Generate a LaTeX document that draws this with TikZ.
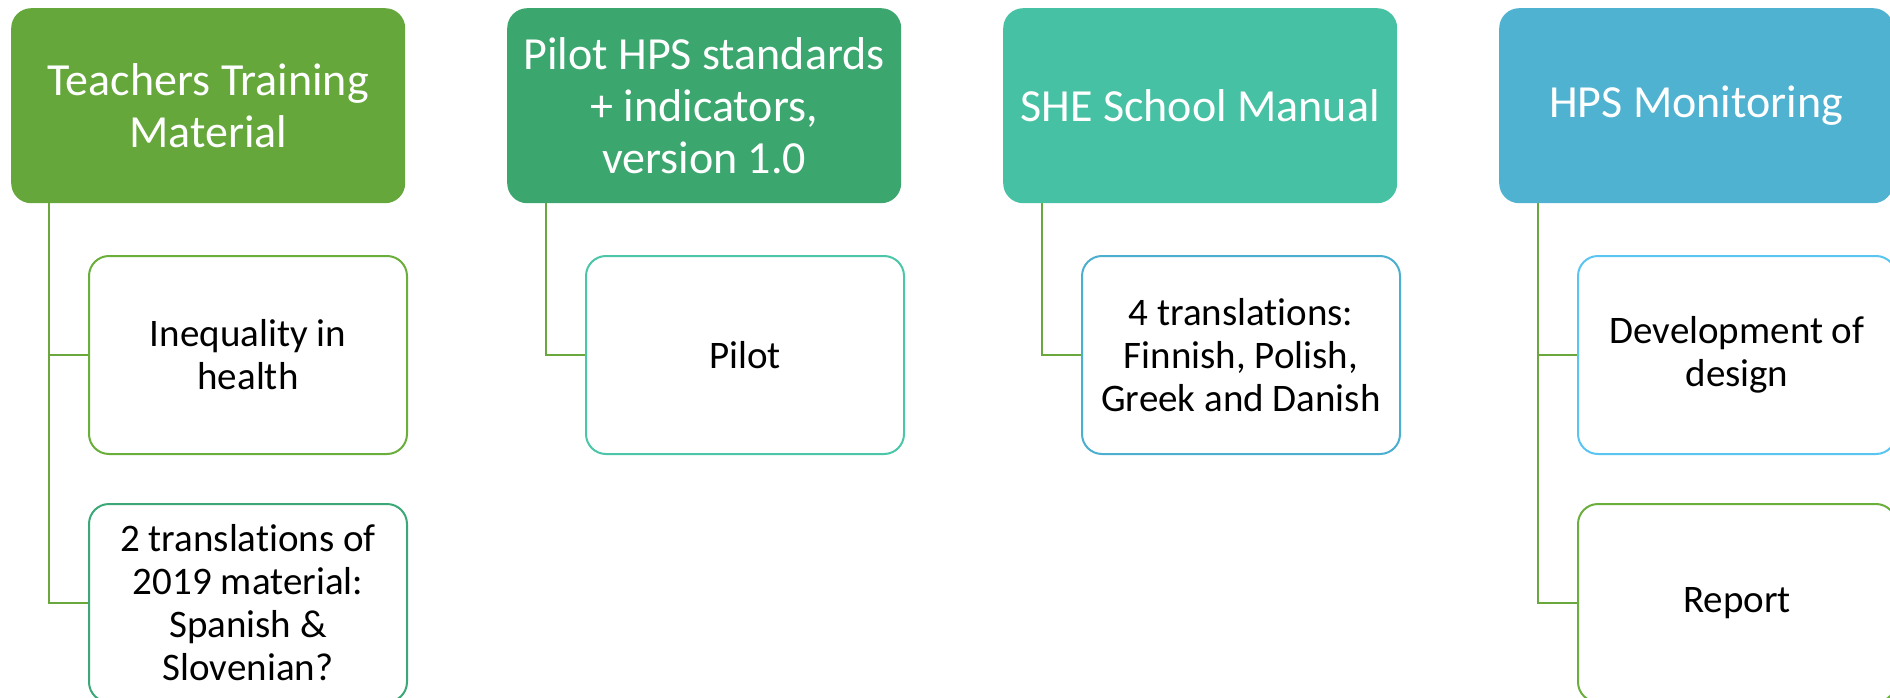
\documentclass[tikz,border=0pt]{standalone}
\usepackage{fontspec}
\setmainfont{Carlito}[Ligatures=NoCommon]
\definecolor{hA}{HTML}{65A73A}
\definecolor{hB}{HTML}{3BA76F}
\definecolor{hC}{HTML}{47C1A3}
\definecolor{hD}{HTML}{4EB2D0}
\definecolor{bGreen}{HTML}{6AAF3C}
\definecolor{bMid}{HTML}{3DA877}
\definecolor{bTeal}{HTML}{4CC6A8}
\definecolor{bBlue}{HTML}{4DAFD0}
\definecolor{bLight}{HTML}{5BC5F2}
\definecolor{cLine}{HTML}{6AA83E}
\tikzset{
  head/.style={rectangle, rounded corners=20pt, fill=#1, draw=none, text=white,
    minimum width=394pt, minimum height=195pt, inner sep=0pt, align=center,
    anchor=north west, font=\fontsize{46}{52}\selectfont},
  child/.style={rectangle, rounded corners=20pt, fill=white, draw=#1, line width=2pt,
    minimum width=318pt, minimum height=198pt, inner sep=0pt, align=center,
    anchor=north west, font=\fontsize{39}{43}\selectfont},
  conn/.style={draw=cLine, line width=2.5pt}
}
\begin{document}
\begin{tikzpicture}[x=1pt,y=-1pt]
\useasboundingbox (0,0) rectangle (1890,698);
\node[head=hA] (h1) at (11,8) {Teachers Training\\Material};
\node[head=hB] (h2) at (507,8) {Pilot HPS standards\\+ indicators,\\version 1.0};
\node[head=hC] (h3) at (1003,8) {SHE School Manual};
\node[head=hD] (h4) at (1499,8) {HPS Monitoring};

\node[child=bGreen] (c11) at (88,255) {Inequality in\\health};
\node[child=bMid] (c12) at (88,503) {2 translations of\\2019 material:\\Spanish \&\\Slovenian?};
\node[child=bTeal] (c21) at (585,255) {Pilot};
\node[child=bBlue] (c31) at (1081,255) {4 translations:\\Finnish, Polish,\\Greek and Danish};
\node[child=bLight] (c41) at (1577,255) {Development of\\design};
\node[child=bGreen] (c42) at (1577,503) {Report};

\coordinate (s1) at ([xshift=38pt]h1.south west);
\coordinate (s2) at ([xshift=39pt]h2.south west);
\coordinate (s3) at ([xshift=39pt]h3.south west);
\coordinate (s4) at ([xshift=39pt]h4.south west);
\draw[conn] (s1) |- (c11.west);
\draw[conn] (s1) |- (c12.west);
\draw[conn] (s2) |- (c21.west);
\draw[conn] (s3) |- (c31.west);
\draw[conn] (s4) |- (c41.west);
\draw[conn] (s4) |- (c42.west);
\end{tikzpicture}
\end{document}
